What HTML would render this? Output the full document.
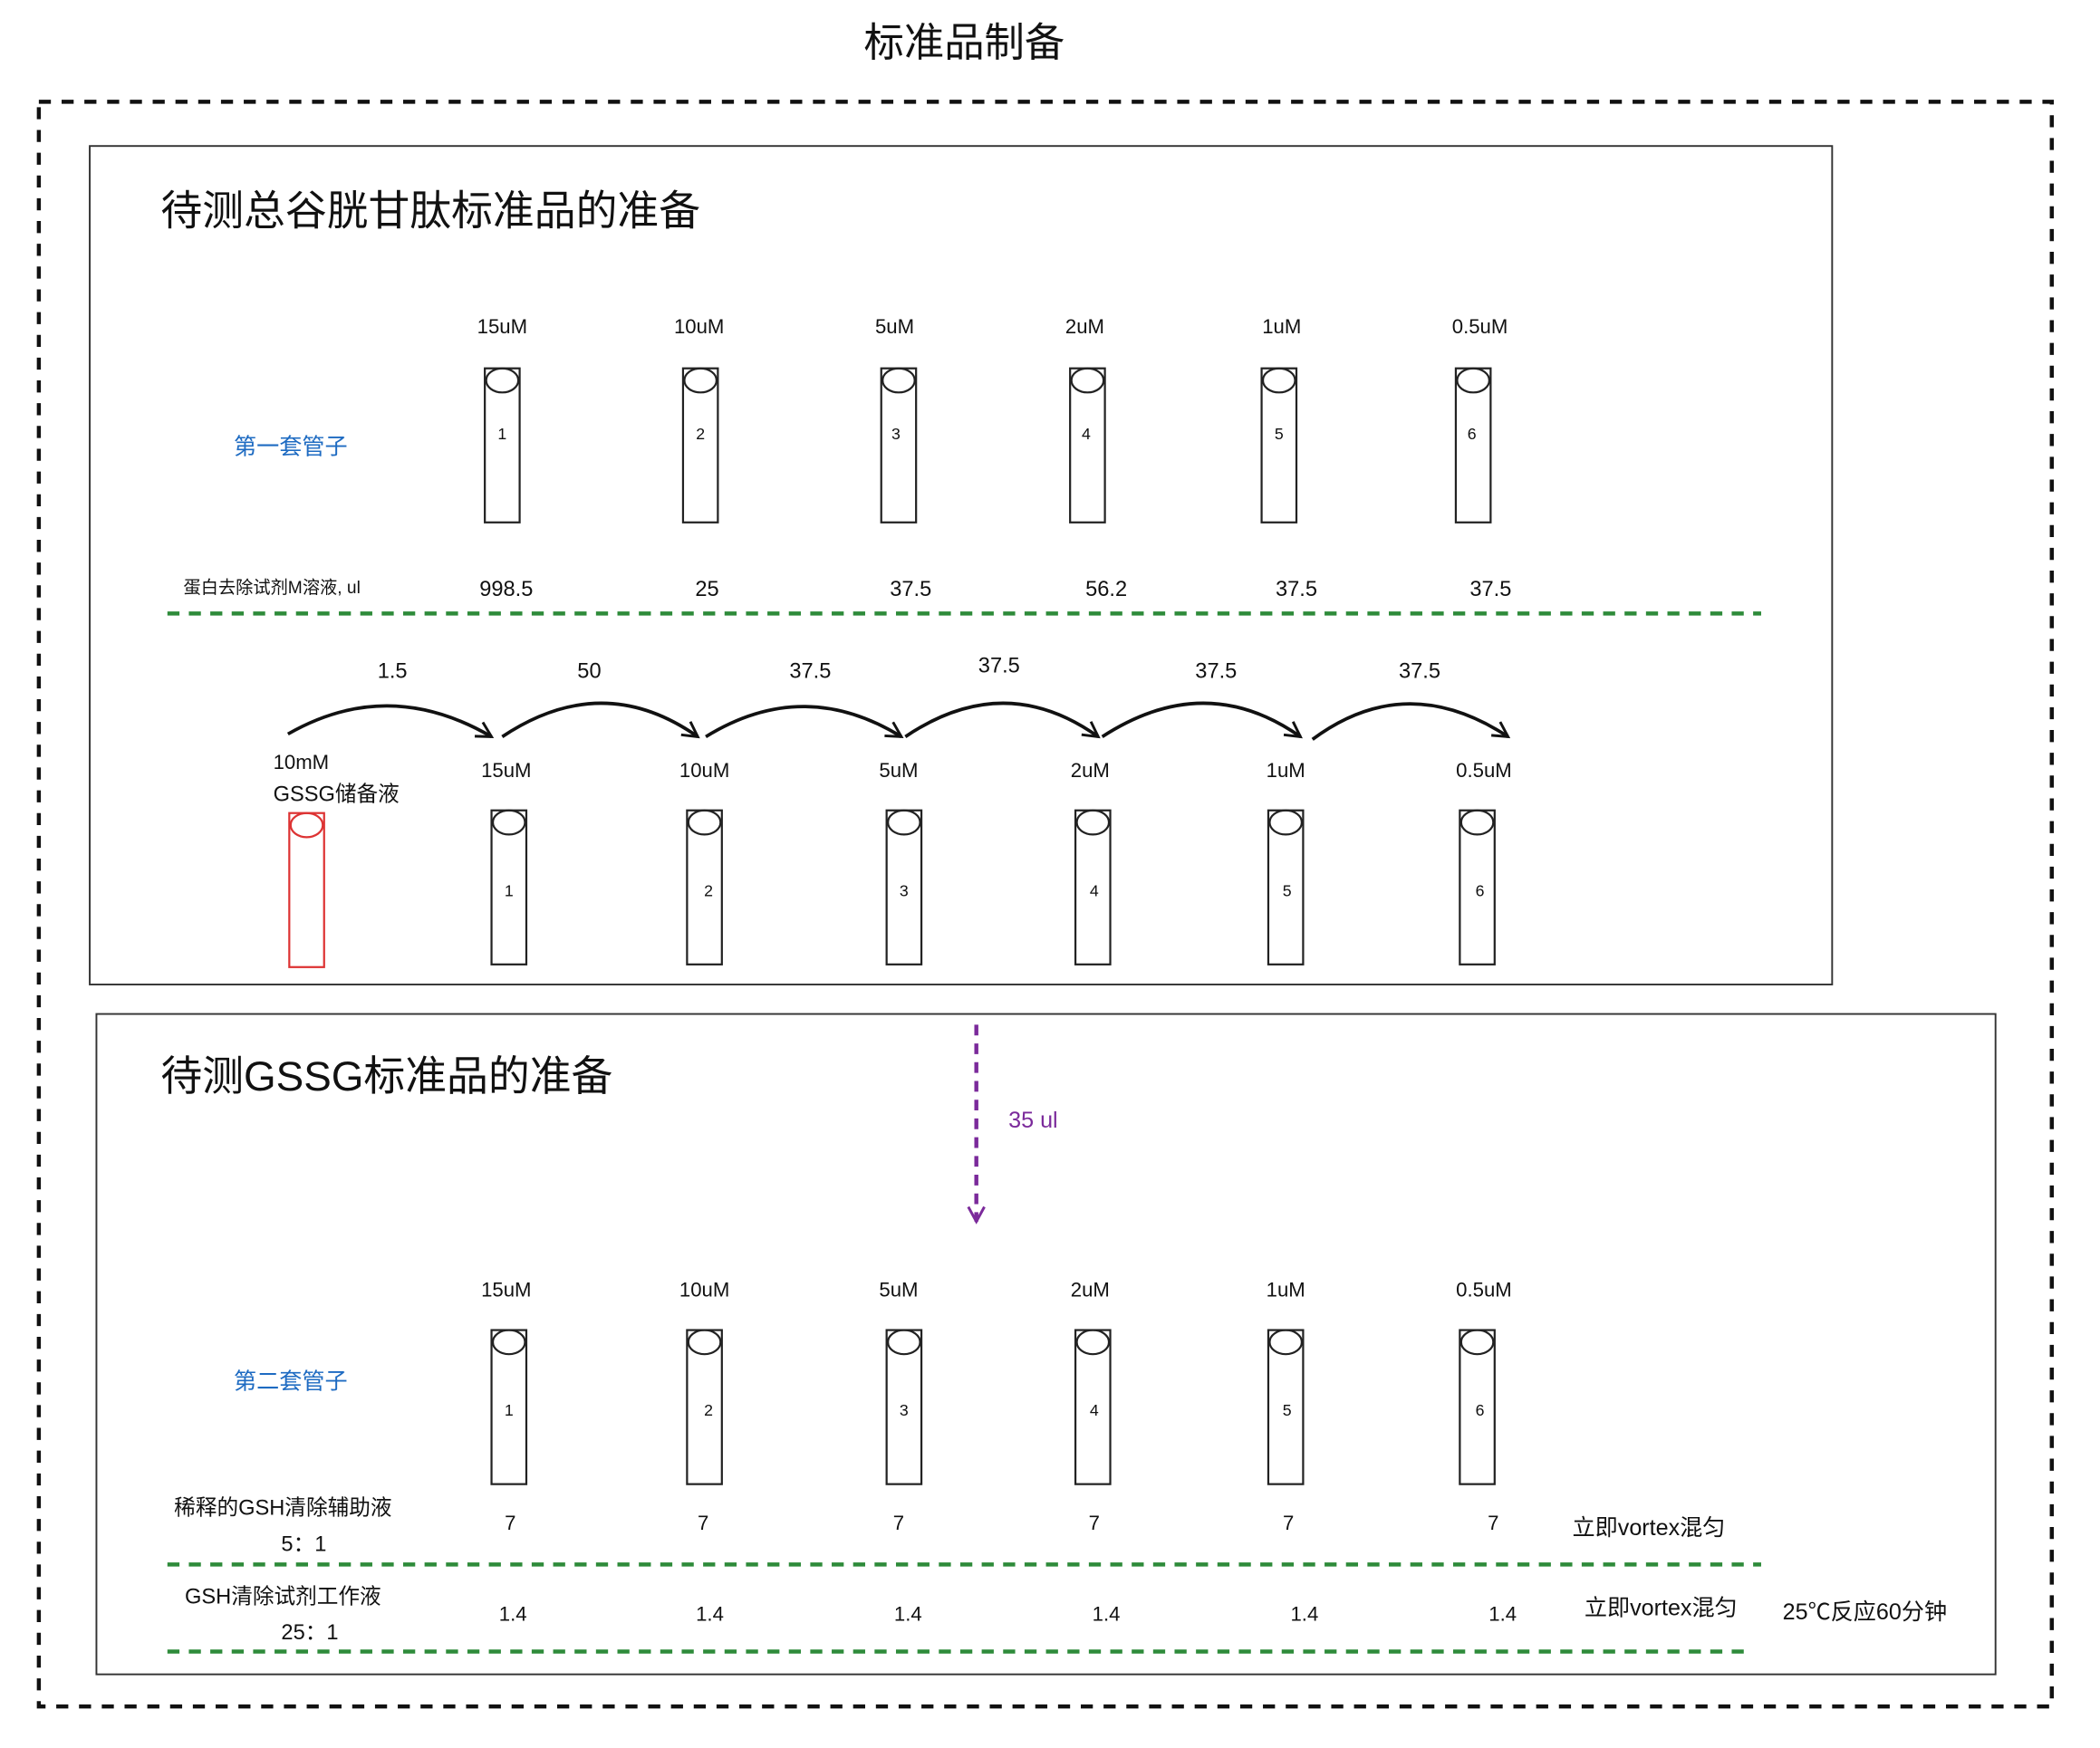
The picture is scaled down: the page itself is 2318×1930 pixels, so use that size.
<!DOCTYPE html>
<html><head><meta charset="utf-8"><style>
html,body{margin:0;padding:0;background:#fff;}
svg{display:block;}
text{font-family:"Liberation Sans","Noto Sans CJK SC",sans-serif;}
</style></head><body>
<svg width="2318" height="1930" viewBox="0 0 1568 1305" preserveAspectRatio="none" xmlns="http://www.w3.org/2000/svg">
<defs>
<g id="tube"><rect x="-13" y="0" width="26" height="115" fill="none" stroke="#222" stroke-width="1.5"/><ellipse cx="0" cy="9" rx="12" ry="9" fill="none" stroke="#222" stroke-width="1.5"/></g>
<marker id="ah" markerWidth="14" markerHeight="14" refX="12" refY="7" orient="auto" markerUnits="userSpaceOnUse"><path d="M1,1 L12,7 L1,13" fill="none" stroke="#111" stroke-width="2"/></marker>
<marker id="ahp" markerWidth="14" markerHeight="14" refX="7" refY="12" orient="0" markerUnits="userSpaceOnUse"><path d="M1,1 L7,12 L13,1" fill="none" stroke="#7b2a9b" stroke-width="2"/></marker>
</defs>
<text x="720" y="42" font-size="30" text-anchor="middle" fill="#111">标准品制备</text>
<rect x="29" y="76" width="1503" height="1198" fill="none" stroke="#111" stroke-width="3" stroke-dasharray="9,8"/>
<rect x="67" y="109" width="1301" height="626" fill="none" stroke="#333" stroke-width="1.3"/>
<rect x="72" y="757" width="1418" height="493" fill="none" stroke="#333" stroke-width="1.3"/>
<text x="120" y="168" font-size="31" fill="#111">待测总谷胱甘肽标准品的准备</text>
<text x="120" y="814" font-size="31" fill="#111">待测GSSG标准品的准备</text>
<g font-size="15" text-anchor="middle" fill="#111">
<text x="375" y="249">15uM</text><text x="522" y="249">10uM</text><text x="668" y="249">5uM</text><text x="810" y="249">2uM</text><text x="957" y="249">1uM</text><text x="1105" y="249">0.5uM</text>
<text x="378" y="580">15uM</text><text x="526" y="580">10uM</text><text x="671" y="580">5uM</text><text x="814" y="580">2uM</text><text x="960" y="580">1uM</text><text x="1108" y="580">0.5uM</text>
<text x="378" y="968">15uM</text><text x="526" y="968">10uM</text><text x="671" y="968">5uM</text><text x="814" y="968">2uM</text><text x="960" y="968">1uM</text><text x="1108" y="968">0.5uM</text>
</g>
<g>
<use href="#tube" x="375" y="275"/><use href="#tube" x="523" y="275"/><use href="#tube" x="671" y="275"/><use href="#tube" x="812" y="275"/><use href="#tube" x="955" y="275"/><use href="#tube" x="1100" y="275"/>
<use href="#tube" x="380" y="605"/><use href="#tube" x="526" y="605"/><use href="#tube" x="675" y="605"/><use href="#tube" x="816" y="605"/><use href="#tube" x="960" y="605"/><use href="#tube" x="1103" y="605"/>
<use href="#tube" x="380" y="993"/><use href="#tube" x="526" y="993"/><use href="#tube" x="675" y="993"/><use href="#tube" x="816" y="993"/><use href="#tube" x="960" y="993"/><use href="#tube" x="1103" y="993"/>
</g>
<g stroke="#d33" fill="none" stroke-width="1.5"><rect x="216" y="607" width="26" height="115"/><ellipse cx="229" cy="616" rx="12" ry="9"/></g>
<g font-size="12" text-anchor="middle" fill="#111">
<text x="375" y="328">1</text><text x="523" y="328">2</text><text x="669" y="328">3</text><text x="811" y="328">4</text><text x="955" y="328">5</text><text x="1099" y="328">6</text>
<text x="380" y="669">1</text><text x="529" y="669">2</text><text x="675" y="669">3</text><text x="817" y="669">4</text><text x="961" y="669">5</text><text x="1105" y="669">6</text>
<text x="380" y="1057">1</text><text x="529" y="1057">2</text><text x="675" y="1057">3</text><text x="817" y="1057">4</text><text x="961" y="1057">5</text><text x="1105" y="1057">6</text>
</g>
<text x="217" y="339" font-size="17" fill="#1e6bc2" text-anchor="middle">第一套管子</text>
<text x="217" y="1037" font-size="17" fill="#1e6bc2" text-anchor="middle">第二套管子</text>
<text x="137" y="443" font-size="13" fill="#111">蛋白去除试剂M溶液, ul</text>
<g font-size="16" text-anchor="middle" fill="#111">
<text x="378" y="445">998.5</text><text x="528" y="445">25</text><text x="680" y="445">37.5</text><text x="826" y="445">56.2</text><text x="968" y="445">37.5</text><text x="1113" y="445">37.5</text>
<text x="293" y="506">1.5</text><text x="440" y="506">50</text><text x="605" y="506">37.5</text><text x="746" y="502">37.5</text><text x="908" y="506">37.5</text><text x="1060" y="506">37.5</text>
</g>
<g stroke="#2e8b3a" stroke-width="3" stroke-dasharray="9,7" fill="none">
<line x1="125" y1="458" x2="1315" y2="458"/><line x1="125" y1="1168" x2="1315" y2="1168"/><line x1="125" y1="1233" x2="1305" y2="1233"/>
</g>
<g stroke="#111" stroke-width="2.5" fill="none" marker-end="url(#ah)">
<path d="M215,548 Q290,505 367,550"/><path d="M375,550 Q450,500 521,550"/><path d="M527,550 Q600,505 673,550"/><path d="M676,550 Q750,500 820,550"/><path d="M823,550 Q900,500 971,550"/><path d="M980,552 Q1050,500 1126,550"/>
</g>
<text x="204" y="574" font-size="15" fill="#111">10mM</text>
<text x="204" y="598" font-size="16" fill="#111">GSSG储备液</text>
<line x1="729" y1="765" x2="729" y2="912" stroke="#7b2a9b" stroke-width="3" stroke-dasharray="8,6" marker-end="url(#ahp)"/>
<text x="753" y="842" font-size="17" fill="#7b2a9b">35 ul</text>
<text x="130" y="1131" font-size="16" fill="#111">稀释的GSH清除辅助液</text>
<text x="210" y="1158" font-size="16" fill="#111">5：1</text>
<text x="138" y="1197" font-size="16" fill="#111">GSH清除试剂工作液</text>
<text x="210" y="1224" font-size="16" fill="#111">25：1</text>
<g font-size="15" text-anchor="middle" fill="#111">
<text x="381" y="1142">7</text><text x="525" y="1142">7</text><text x="671" y="1142">7</text><text x="817" y="1142">7</text><text x="962" y="1142">7</text><text x="1115" y="1142">7</text>
<text x="383" y="1210">1.4</text><text x="530" y="1210">1.4</text><text x="678" y="1210">1.4</text><text x="826" y="1210">1.4</text><text x="974" y="1210">1.4</text><text x="1122" y="1210">1.4</text>
</g>
<text x="1174" y="1146" font-size="17" fill="#111">立即vortex混匀</text>
<text x="1183" y="1206" font-size="17" fill="#111">立即vortex混匀</text>
<text x="1331" y="1209" font-size="17" fill="#111">25℃反应60分钟</text>
</svg>
</body></html>
